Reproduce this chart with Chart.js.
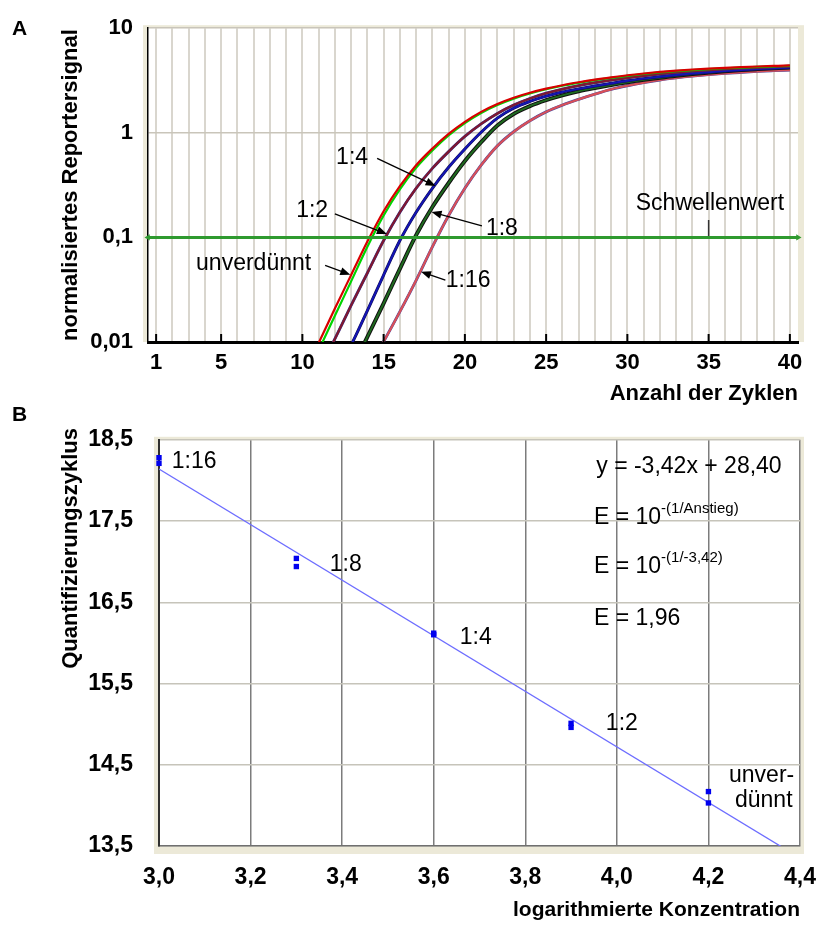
<!DOCTYPE html>
<html><head><meta charset="utf-8">
<script src="https://cdn.jsdelivr.net/npm/chart.js@4/dist/chart.umd.min.js"></script>
<style>
html,body{margin:0;padding:0;background:#fff;}
#wrapA{position:absolute;left:0;top:0;width:819px;height:420px;}
#wrapB{position:absolute;left:0;top:400px;width:819px;height:534px;}
canvas{display:block;}
</style></head><body>
<div id="wrapA"><canvas id="cA" width="819" height="420"></canvas></div>
<div id="wrapB"><canvas id="cB" width="819" height="534"></canvas></div>
<script>
// ---------- DATA: panel A (amplification curves) ----------
const cycles = [10,11,12,13,14,15,16,17,18,19,20,21,22,23,24,25,26,27,28,29,30,31,32,33,34,35,36,37,38,39,40];
const unverduennt1 = [0.00457,0.00977,0.0209,0.0437,0.0912,0.178,0.309,0.490,0.708,0.977,1.274,1.585,1.884,2.163,2.415,2.642,2.851,3.041,3.221,3.388,3.548,3.690,3.819,3.926,4.027,4.111,4.178,4.246,4.305,4.355,4.406];
const unverduennt2 = [0.00398,0.00832,0.0178,0.0380,0.0813,0.162,0.288,0.462,0.676,0.944,1.239,1.549,1.845,2.123,2.377,2.606,2.818,3.006,3.184,3.350,3.508,3.648,3.776,3.882,3.981,4.064,4.140,4.207,4.266,4.315,4.365];
const verd1zu2 = [0.00251,0.00525,0.0107,0.0224,0.0457,0.0933,0.174,0.295,0.457,0.661,0.923,1.216,1.531,1.841,2.128,2.388,2.618,2.825,3.013,3.192,3.357,3.508,3.648,3.776,3.882,3.981,4.064,4.140,4.207,4.266,4.325];
const verd1zu4 = [0.00112,0.00234,0.00468,0.00933,0.0200,0.0437,0.0933,0.174,0.295,0.468,0.700,1.012,1.380,1.718,1.995,2.239,2.455,2.630,2.805,2.972,3.141,3.296,3.443,3.573,3.690,3.802,3.899,3.990,4.074,4.150,4.217];
const verd1zu8 = [0.000794,0.00151,0.00282,0.00537,0.0112,0.0234,0.0501,0.105,0.195,0.331,0.537,0.813,1.175,1.514,1.799,2.051,2.280,2.489,2.679,2.864,3.041,3.206,3.365,3.516,3.648,3.767,3.882,3.981,4.064,4.140,4.217];
const verd1zu16 = [0.000631,0.00112,0.00191,0.00316,0.00550,0.0101,0.0195,0.0389,0.0813,0.162,0.295,0.490,0.750,1.023,1.303,1.585,1.841,2.089,2.344,2.600,2.818,3.020,3.199,3.350,3.483,3.597,3.698,3.784,3.864,3.926,3.981];
const schwellenwert = 0.1;
const xTicksA = [1,2,3,4,5,6,7,8,9,10,11,12,13,14,15,16,17,18,19,20,21,22,23,24,25,26,27,28,29,30,31,32,33,34,35,36,37,38,39,40];
const xTickLabelsA = [1,5,10,15,20,25,30,35,40];
const yTicksA = [0.01,0.1,1,10];
const yTickLabelsA = ['0,01','0,1','1','10'];

// ---------- DATA: panel B (standard curve) ----------
const logKonz = [3.0,3.0,3.3,3.3,3.6,3.6,3.9,3.9,4.2,4.2];
const quantZyklus = [18.28,18.21,17.04,16.94,16.12,16.10,15.01,14.96,14.17,14.03];
const fitX = [3.0,4.4];
const fitY = [18.14,13.352];
const xTicksB = [3.0,3.2,3.4,3.6,3.8,4.0,4.2,4.4];
const yTicksB = [13.5,14.5,15.5,16.5,17.5,18.5];

const FF = "'Liberation Sans', Arial, Helvetica, sans-serif";
const pts = (xs, ys) => xs.map((x,i)=>({x, y: ys[i]}));

function arrow(ctx, x1, y1, x2, y2){
  const a = Math.atan2(y2-y1, x2-x1), L = 10, W = 4;
  ctx.beginPath(); ctx.moveTo(x1,y1); ctx.lineTo(x2 - Math.cos(a)*L*0.8, y2 - Math.sin(a)*L*0.8); ctx.stroke();
  ctx.beginPath(); ctx.moveTo(x2,y2);
  ctx.lineTo(x2 - L*Math.cos(a) + W*Math.sin(a), y2 - L*Math.sin(a) - W*Math.cos(a));
  ctx.lineTo(x2 - L*Math.cos(a) - W*Math.sin(a), y2 - L*Math.sin(a) + W*Math.cos(a));
  ctx.closePath(); ctx.fill();
}

const frameA = {
  id:'frameA',
  beforeDraw(chart){
    const {ctx, chartArea:a} = chart;
    ctx.save();
    ctx.fillStyle = '#ece9d8';
    ctx.fillRect(a.left-5, a.top-3, a.right-a.left+11, a.bottom-a.top+3);
    ctx.fillStyle = '#fff';
    ctx.fillRect(a.left, a.top, a.right-a.left, a.bottom-a.top);
    ctx.restore();
  },
  afterDatasetsDraw(chart){
    const {ctx, chartArea:a, scales:{x, y}} = chart;
    ctx.save();
    ctx.strokeStyle = '#000'; ctx.lineWidth = 2;
    xTickLabelsA.forEach(v => { const px = x.getPixelForValue(v); ctx.beginPath(); ctx.moveTo(px, a.bottom); ctx.lineTo(px, a.bottom-8); ctx.stroke(); });
    ctx.fillStyle = '#000'; ctx.strokeStyle = '#000'; ctx.lineWidth = 1.3;
    ctx.font = '23px ' + FF; ctx.textAlign = 'center'; ctx.textBaseline = 'middle';
    const P = (cx, cy) => [x.getPixelForValue(cx), y.getPixelForValue(cy)];
    const ann = [
      {t:'1:4', c:[13.06,0.58], f:[14.6,0.57], to:[18.2,0.31]},
      {t:'1:2', c:[10.6,0.18], f:[12.0,0.168], to:[15.2,0.108]},
      {t:'unverdünnt', c:[7.0,0.0556], f:[11.4,0.054], to:[12.95,0.044]},
      {t:'1:8', c:[22.28,0.122], f:[21.05,0.129], to:[17.95,0.175]},
      {t:'1:16', c:[20.2,0.039], f:[18.8,0.039], to:[17.3,0.047]}
    ];
    ann.forEach(o => {
      const [tx, ty] = P(...o.c); ctx.fillText(o.t, tx, ty);
      const [x1, y1] = P(...o.f), [x2, y2] = P(...o.to);
      arrow(ctx, x1, y1, x2, y2);
    });
    const [sx, sy] = P(35.08, 0.21);
    ctx.fillText('Schwellenwert', sx, sy);
    ctx.restore();
  },
  afterDraw(chart){
    const ctx = chart.ctx;
    ctx.save();
    ctx.fillStyle = '#000'; ctx.font = 'bold 21px ' + FF; ctx.textAlign='left'; ctx.textBaseline='middle';
    ctx.fillText('A', 12, 29);
    ctx.restore();
  }
};

const lineDs = (data, color, w) => ({data: pts(cycles, data), borderColor: color, backgroundColor: color, borderWidth: w, showLine: true, pointRadius: 0, cubicInterpolationMode: 'monotone'});

new Chart(document.getElementById('cA'), {
  type: 'scatter',
  data: { datasets: [
    {data:[{x:0.5,y:schwellenwert},{x:40.5,y:schwellenwert}], borderColor:'#2f9a2f', backgroundColor:'#2f9a2f', borderWidth:3, showLine:true,
     pointStyle:'triangle', pointRadius:3.5, pointRotation:[-90,90], pointBorderWidth:0, clip:false},
    {data:[{x:35,y:schwellenwert},{x:35,y:0.147}], borderColor:'#333', borderWidth:1.5, showLine:true, pointRadius:0},
    lineDs(unverduennt1, '#d80000', 2.2),
    lineDs(unverduennt2, '#00d400', 2.2),
    lineDs(verd1zu2, '#801830', 2.2),
    lineDs(verd1zu2, '#303090', 2.9),
    lineDs(verd1zu4, '#1414b4', 2),
    lineDs(verd1zu4, '#101050', 3.0),
    lineDs(verd1zu8, '#1f6a1f', 2),
    lineDs(verd1zu8, '#111111', 4.0),
    lineDs(verd1zu16, '#d85058', 2.2),
    lineDs(verd1zu16, '#4848a0', 2.9)
  ]},
  options: {
    responsive:false, animation:false, devicePixelRatio:1,
    layout:{padding:{left:0, top:24, right:21, bottom:0}},
    plugins:{legend:{display:false}, tooltip:{enabled:false}},
    scales:{
      x:{type:'linear', min:0.5, max:40.5,
         afterBuildTicks: s => { s.ticks = xTicksA.map(v=>({value:v})); },
         afterFit: s => { s.height = 78; s.paddingLeft = 0; s.paddingRight = 0; },
         grid:{color:'#d9d6ce', lineWidth:2, drawTicks:false},
         border:{color:'#000', width:3},
         ticks:{autoSkip:false, maxRotation:0, padding:8, color:'#000', font:{family:FF, size:22, weight:'bold'},
                callback: v => xTickLabelsA.includes(v) ? String(v) : ''},
         title:{display:true, text:'Anzahl der Zyklen', align:'end', color:'#000', font:{family:FF, size:22, weight:'bold'}, padding:{top:0, bottom:13}}
      },
      y:{type:'logarithmic', min:0.01, max:10,
         afterBuildTicks: s => { s.ticks = yTicksA.map(v=>({value:v})); },
         afterFit: s => { s.width = 148; },
         grid:{color:'#c9c5ba', lineWidth:1.5, drawTicks:false},
         border:{color:'#000', width:1.5},
         ticks:{padding:15, color:'#000', font:{family:FF, size:22, weight:'bold'},
                callback: (v, i) => yTickLabelsA[i]},
         title:{display:true, text:'normalisiertes Reportersignal', align:'center', color:'#000', font:{family:FF, size:22, weight:'bold'}, padding:{top:58, bottom:0}}
      }
    }
  },
  plugins:[frameA]
});

// ---------- Panel B ----------
const frameB = {
  id:'frameB',
  beforeDraw(chart){
    const {ctx, chartArea:a} = chart;
    ctx.save();
    ctx.fillStyle = '#ece9d8';
    ctx.fillRect(a.left-5, a.top-3, a.right-a.left+9, a.bottom-a.top+11);
    ctx.fillStyle = '#fff';
    ctx.fillRect(a.left, a.top, a.right-a.left, a.bottom-a.top);
    ctx.restore();
  },
  afterDatasetsDraw(chart){
    const {ctx, scales:{x, y}} = chart;
    ctx.save();
    ctx.fillStyle = '#000'; ctx.textAlign='left'; ctx.textBaseline='middle';
    const F = '23px ' + FF;
    ctx.font = F;
    const T = (t, vx, vy) => ctx.fillText(t, x.getPixelForValue(vx), y.getPixelForValue(vy));
    T('1:16', 3.028, 18.23);
    T('1:8', 3.373, 16.96);
    T('1:4', 3.657, 16.07);
    T('1:2', 3.976, 15.01);
    T('unver-', 4.245, 14.37);
    T('dünnt', 4.258, 14.06);
    T('y = -3,42x + 28,40', 3.955, 18.17);
    const sup = (base, s, vx, vy) => {
      const px = x.getPixelForValue(vx), py = y.getPixelForValue(vy);
      ctx.font = F; ctx.fillText(base, px, py);
      const w = ctx.measureText(base).width;
      ctx.font = '15px ' + FF; ctx.fillText(s, px + w, py - 9);
    };
    sup('E = 10', '-(1/Anstieg)', 3.95, 17.54);
    sup('E = 10', '-(1/-3,42)', 3.95, 16.94);
    ctx.font = F;
    T('E = 1,96', 3.95, 16.30);
    ctx.restore();
  },
  afterDraw(chart){
    const ctx = chart.ctx;
    ctx.save();
    ctx.fillStyle = '#000'; ctx.font = 'bold 21px ' + FF; ctx.textBaseline='middle';
    ctx.textAlign='left';
    ctx.fillText('B', 12, 15);
    ctx.font = 'bold 22px ' + FF;
    ctx.translate(71, 28);
    ctx.rotate(-Math.PI/2);
    ctx.textAlign = 'right';
    ctx.fillText('Quantifizierungszyklus', 0, 0);
    ctx.restore();
  }
};

new Chart(document.getElementById('cB'), {
  type: 'scatter',
  data: { datasets: [
    {data: pts(logKonz, quantZyklus), pointStyle:'rect', pointRadius:3.8, backgroundColor:'#0000ee', borderColor:'#0000ee', borderWidth:0, clip:false},
    {data: pts(fitX, fitY), showLine:true, pointRadius:0, borderColor:'#6d6dff', borderWidth:1.3}
  ]},
  options: {
    responsive:false, animation:false, devicePixelRatio:1,
    layout:{padding:{left:0, top:36, right:19, bottom:0}},
    plugins:{legend:{display:false}, tooltip:{enabled:false}},
    scales:{
      x:{type:'linear', min:3.0, max:4.4,
         afterBuildTicks: s => { s.ticks = xTicksB.map(v=>({value:v})); },
         afterFit: s => { s.height = 88; s.paddingLeft = 0; s.paddingRight = 0; },
         grid:{color:'#7c7c7c', lineWidth:1.5, drawTicks:false},
         border:{color:'#707070', width:1.5},
         ticks:{autoSkip:false, maxRotation:0, padding:18, color:'#000', font:{family:FF, size:23, weight:'bold'},
                callback: v => v.toFixed(1).replace('.', ',')},
         title:{display:true, text:'logarithmierte Konzentration', align:'end', color:'#000', font:{family:FF, size:21, weight:'bold'}, padding:{top:0, bottom:11}}
      },
      y:{type:'linear', min:13.5, max:18.5,
         afterBuildTicks: s => { s.ticks = yTicksB.map(v=>({value:v})); },
         afterFit: s => { s.width = 159; },
         grid:{color:'#c6c4ba', lineWidth:1.5, drawTicks:false},
         border:{color:'#303030', width:2},
         ticks:{padding:26, color:'#000', font:{family:FF, size:23, weight:'bold'},
                callback: v => v.toFixed(1).replace('.', ',')},
         title:{display:false}
      }
    }
  },
  plugins:[frameB]
});
</script>
</body></html>
